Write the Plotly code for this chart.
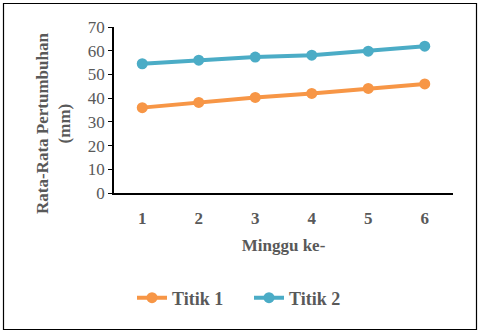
import plotly.graph_objects as go

weeks = [1, 2, 3, 4, 5, 6]
week_labels = ["1", "2", "3", "4", "5", "6"]
titik1 = [36.0, 38.2, 40.3, 42.0, 44.1, 46.0]
titik2 = [54.5, 56.0, 57.3, 58.1, 59.8, 61.9]

FONT = "Liberation Serif"
GRAY = "#595959"

fig = go.Figure()
fig.add_trace(go.Scatter(x=weeks, y=titik1, mode="lines+markers", name="Titik 1",
                         line=dict(color="#F79646", width=4),
                         marker=dict(color="#F79646", size=11)))
fig.add_trace(go.Scatter(x=weeks, y=titik2, mode="lines+markers", name="Titik 2",
                         line=dict(color="#4BACC6", width=4),
                         marker=dict(color="#4BACC6", size=11)))

W, H = 480, 333
L, R, T, B = 114, 27, 27, 140
pw, ph = W - L - R, H - T - B

def px(x):
    return (x - L) / pw

def py(y):
    return (H - B - y) / ph

fig.add_shape(type="rect", xref="paper", yref="paper",
              x0=px(3.5), x1=px(476.5), y0=py(329.5), y1=py(3.5),
              line=dict(color="black", width=1.2), fillcolor="rgba(0,0,0,0)")

fig.add_annotation(xref="paper", yref="paper", x=px(53), y=py(123),
                   text="<b>Rata-Rata Pertumbuhan<br>(mm)</b>", textangle=-90,
                   showarrow=False, xanchor="center", yanchor="middle",
                   font=dict(family=FONT, size=17, color=GRAY))

fig.update_layout(
    width=W, height=H,
    margin=dict(l=L, r=R, t=T, b=B),
    paper_bgcolor="white", plot_bgcolor="white",
    font=dict(family=FONT, color=GRAY),
    showlegend=True,
    legend=dict(orientation="h", x=px(249), xanchor="center", y=py(298), yanchor="middle",
                font=dict(family=FONT, size=18, color=GRAY, weight="bold"),
                entrywidth=72, entrywidthmode="pixels"),
    xaxis=dict(range=[0.5, 6.5], tickvals=weeks, ticktext=week_labels,
               showgrid=False, zeroline=False, showline=True, linecolor="black", linewidth=1.5,
               ticks="", tickfont=dict(family=FONT, size=17, color=GRAY, weight="bold"),
               ticklabelstandoff=9,
               title=dict(text="Minggu ke-", font=dict(family=FONT, size=17, color=GRAY, weight="bold"),
                          standoff=12)),
    yaxis=dict(range=[0, 70], dtick=10, showgrid=False, zeroline=False,
               showline=True, linecolor="black", linewidth=1.5,
               ticks="outside", ticklen=4, tickcolor="black",
               tickfont=dict(family=FONT, size=17, color=GRAY)),
)

fig.write_html("out.html")
